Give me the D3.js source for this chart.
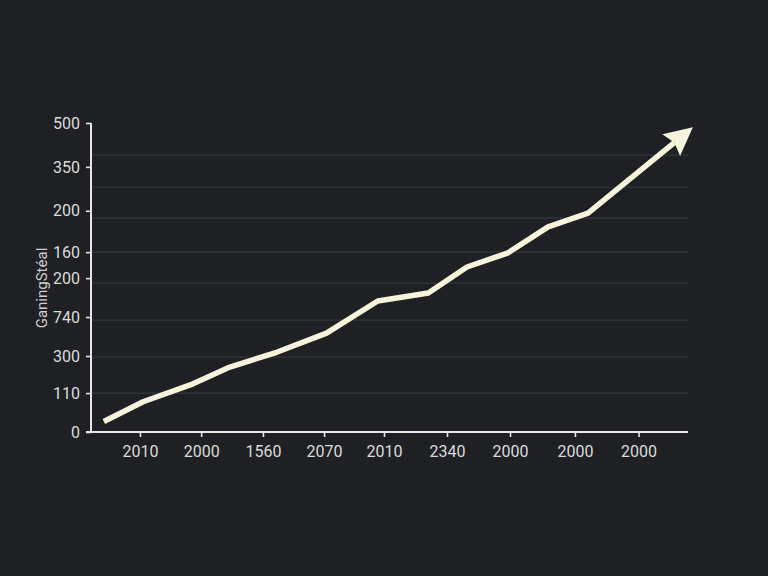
<!doctype html>
<html lang="en">
<head>
	<meta charset="UTF-8">
	<title>GaningStéal</title>
	<script src="https://cdnjs.cloudflare.com/ajax/libs/d3/7.8.5/d3.min.js"></script>
	<style>
		html, body { margin: 0; padding: 0; background: #1e2024; }
		svg { display: block; }
	</style>
</head>
<body>
	<div id="chart"></div>
	<script>
		// ---- data ----
		var xValues = [0.42, 1.05, 1.85, 2.44, 3.19, 3.99, 4.81, 5.62, 6.24, 6.90, 7.54, 8.18, 9.86]
		var yValues = [17, 49, 78, 105, 129, 160, 212, 225, 267, 290, 332, 354, 493]

		var xTickPos = [1, 1.98, 2.97, 3.95, 4.91, 5.92, 6.93, 7.97, 8.99]
		var xTickLabels = ['2010', '2000', '1560', '2070', '2010', '2340', '2000', '2000', '2000']

		var yTickPos = [500, 429, 358, 291, 249, 186, 123, 63, 0]
		var yTickLabels = ['500', '350', '200', '160', '200', '740', '300', '110', '0']

		var gridPos = [448, 396, 346, 291, 241, 181, 121, 63]

		var yTitle = 'GaningStéal'

		// ---- layout ----
		var w = 768, h = 576
		var plotLeft = 91, plotRight = 688, plotTop = 123, plotBottom = 432
		var lineColor = '#f6f4dc'
		var axisColor = '#e6e6e6'
		var textColor = '#dcdcdc'
		var font = 'Roboto, "Liberation Sans", sans-serif'

		var svg = d3.select('#chart').append('svg')
			.attr('width', w)
			.attr('height', h)

		svg.append('rect')
			.attr('width', w)
			.attr('height', h)
			.attr('fill', '#1e2024')

		var x = d3.scaleLinear().domain([0, 10]).range([77.6, 701.6])
		var y = d3.scaleLinear().domain([0, 500]).range([plotBottom, plotTop])

		// gridlines
		svg.append('g')
			.selectAll('line')
			.data(gridPos)
			.join('line')
			.attr('x1', plotLeft + 1)
			.attr('x2', plotRight)
			.attr('y1', d => y(d))
			.attr('y2', d => y(d))
			.attr('stroke', '#33363c')
			.attr('stroke-width', 1.2)

		// y axis
		var yAxis = d3.axisLeft(y)
			.tickValues(yTickPos)
			.tickFormat((d, i) => yTickLabels[i])
			.tickSize(5)
			.tickPadding(6)

		var gy = svg.append('g')
			.attr('transform', 'translate(' + plotLeft + ',0)')
			.call(yAxis)
		gy.select('.domain').remove()
		gy.selectAll('.tick line').attr('stroke', axisColor).attr('stroke-width', 1.6)
		gy.selectAll('.tick text')
			.attr('fill', textColor)
			.style('font-family', font)
			.style('font-size', '16px')

		svg.append('line')
			.attr('x1', plotLeft).attr('x2', plotLeft)
			.attr('y1', plotTop).attr('y2', plotBottom)
			.attr('stroke', axisColor)
			.attr('stroke-width', 2)

		// x axis
		var xAxis = d3.axisBottom(x)
			.tickValues(xTickPos)
			.tickFormat((d, i) => xTickLabels[i])
			.tickSize(5)
			.tickPadding(9)

		var gx = svg.append('g')
			.attr('transform', 'translate(0,' + plotBottom + ')')
			.call(xAxis)
		gx.select('.domain').remove()
		gx.selectAll('.tick line').attr('stroke', axisColor).attr('stroke-width', 1.6)
		gx.selectAll('.tick text')
			.attr('fill', textColor)
			.style('font-family', font)
			.style('font-size', '16px')

		svg.append('line')
			.attr('x1', 86).attr('x2', plotRight)
			.attr('y1', plotBottom).attr('y2', plotBottom)
			.attr('stroke', axisColor)
			.attr('stroke-width', 2)

		// y axis title
		svg.append('text')
			.attr('transform', 'translate(47,288) rotate(-90)')
			.attr('text-anchor', 'middle')
			.attr('fill', '#cfcfcf')
			.style('font-family', font)
			.style('font-size', '15px')
			.text(yTitle)

		// line with arrow head
		var pts = xValues.map((d, i) => [x(d), y(yValues[i])])
		var tip = pts[pts.length - 1]
		var prev = pts[pts.length - 2]
		var ang = Math.atan2(tip[1] - prev[1], tip[0] - prev[0])
		var headLen = 28, headHalf = 14
		var base = [tip[0] - headLen * Math.cos(ang), tip[1] - headLen * Math.sin(ang)]

		var linePts = pts.slice(0, -1).concat([[base[0] + 4 * Math.cos(ang), base[1] + 4 * Math.sin(ang)]])
		svg.append('path')
			.attr('d', d3.line()(linePts))
			.attr('fill', 'none')
			.attr('stroke', lineColor)
			.attr('stroke-width', 5.5)
			.attr('stroke-linejoin', 'round')

		var head = [
			tip,
			[base[0] + headHalf * Math.sin(ang), base[1] - headHalf * Math.cos(ang)],
			[base[0] + 4 * Math.cos(ang), base[1] + 4 * Math.sin(ang)],
			[base[0] - headHalf * Math.sin(ang), base[1] + headHalf * Math.cos(ang)]
		]
		svg.append('path')
			.attr('d', d3.line()(head) + 'Z')
			.attr('fill', lineColor)
	</script>
</body>
</html>
